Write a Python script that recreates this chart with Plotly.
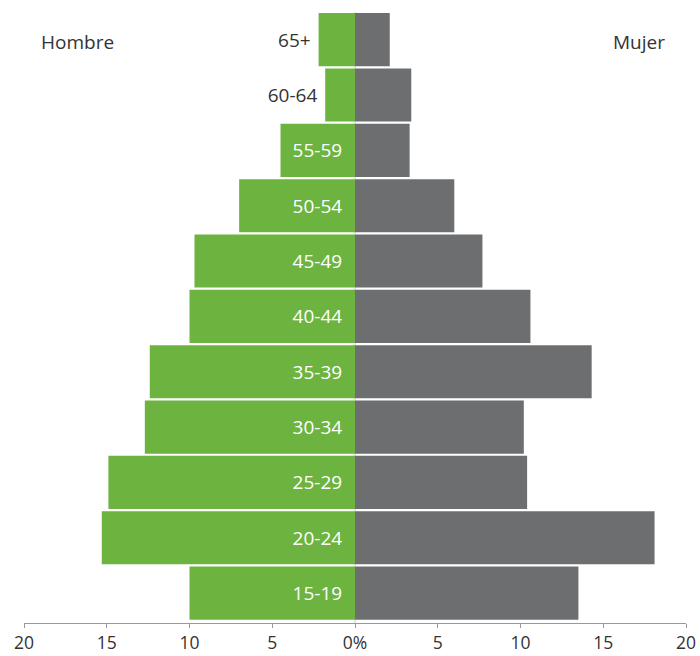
import plotly.graph_objects as go

categories = ["15-19", "20-24", "25-29", "30-34", "35-39", "40-44",
              "45-49", "50-54", "55-59", "60-64", "65+"]
hombre = [10.0, 15.3, 14.9, 12.7, 12.4, 10.0, 9.7, 7.0, 4.5, 1.8, 2.2]
mujer = [13.5, 18.1, 10.4, 10.2, 14.3, 10.6, 7.7, 6.0, 3.3, 3.4, 2.1]
label_pos = ["inside"] * 9 + ["outside", "outside"]
tick_vals = [-20, -15, -10, -5, 0, 5, 10, 15, 20]
tick_text = ["20", "15", "10", "5", "0%", "5", "10", "15", "20"]

FONT = "Open Sans"
FS = 19
GREEN = "#6db33f"
GRAY = "#6d6e70"
TXT = "#333333"

labels = [c + ("\u00a0\u00a0" if p == "inside" else "\u00a0")
          for c, p in zip(categories, label_pos)]

fig = go.Figure()
fig.add_trace(go.Bar(
    y=categories, x=[-v for v in hombre], orientation="h",
    marker=dict(color=GREEN, line=dict(width=0)),
    text=labels,
    textposition=label_pos, insidetextanchor="start", textangle=0,
    insidetextfont=dict(color="white", size=FS, family=FONT),
    outsidetextfont=dict(color=TXT, size=FS, family=FONT),
    hoverinfo="skip", cliponaxis=False,
))
fig.add_trace(go.Bar(
    y=categories, x=mujer, orientation="h",
    marker=dict(color=GRAY, line=dict(width=0)),
    hoverinfo="skip",
))

fig.add_annotation(xref="paper", yref="paper", x=(77 - 24) / 662, y=(623 - 42) / 611,
                   xanchor="center", yanchor="middle",
                   text="Hombre", showarrow=False,
                   font=dict(family=FONT, size=FS, color=TXT))
fig.add_annotation(xref="paper", yref="paper", x=(639 - 24) / 662, y=(623 - 42) / 611,
                   xanchor="center", yanchor="middle",
                   text="Mujer", showarrow=False,
                   font=dict(family=FONT, size=FS, color=TXT))

fig.update_layout(
    width=700, height=656,
    margin=dict(l=24, r=14, t=12, b=33),
    barmode="relative", bargap=0.04,
    plot_bgcolor="white", paper_bgcolor="white",
    showlegend=False,
    font=dict(family=FONT, size=FS, color=TXT),
)
fig.update_xaxes(
    range=[-20, 20], tickvals=tick_vals, ticktext=tick_text,
    showgrid=False, zeroline=False, showline=True, linecolor="#999999",
    linewidth=1, ticks="outside", ticklen=4, tickcolor="#999999",
    tickfont=dict(family=FONT, size=17.5, color=TXT),
    automargin=False,
)
fig.update_yaxes(
    range=[-0.54, 10.5], showticklabels=False, showgrid=False,
    zeroline=False, showline=False, ticks="", automargin=False,
)
fig.add_shape(type="line", xref="x", yref="paper", x0=0, x1=0, y0=0, y1=1,
              line=dict(color="#cccccc", width=1), layer="below")

fig.write_html("out.html", config={"displayModeBar": False},
               post_script="document.body.style.margin='0';document.body.style.overflow='hidden';")
